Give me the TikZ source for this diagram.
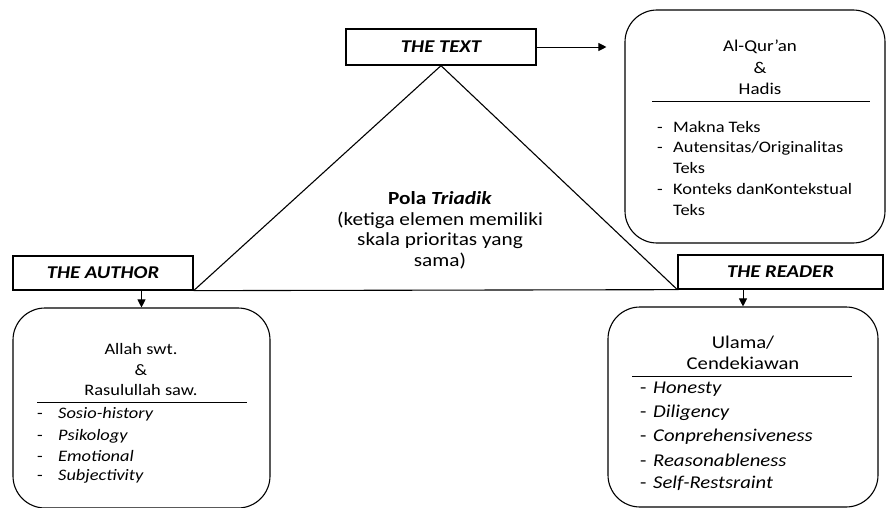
\documentclass[tikz,border=0pt]{standalone}
\usepackage{fontspec}
\setmainfont[FakeStretch=1.15]{Carlito}
\usetikzlibrary{arrows.meta, positioning}

\begin{document}
\begin{tikzpicture}[
    x=1pt, y=-1pt,
    role/.style={draw, rectangle, line width=1.3pt, inner sep=0pt, font=\fontsize{#1}{#1}\selectfont\bfseries\itshape},
    panel/.style={draw, rectangle, rounded corners=32pt, line width=1.1pt, inner sep=0pt},
    rule/.style={line width=0.9pt},
    txt/.style={inner sep=0pt, font=\fontsize{#1}{#1}\selectfont},
    item/.style={inner sep=0pt, anchor=west, font=\fontsize{#1}{#1}\selectfont},
    arrow/.style={-{Triangle[length=8pt, width=8pt]}, line width=0.9pt},
    >=Triangle
]
\useasboundingbox (0,0) rectangle (886,508);

% Elemen utama
\node[role=18, minimum width=190pt, minimum height=36pt] (text) at (441, 47) {THE TEXT};
\node[role=18, minimum width=180pt, minimum height=34pt] (author) at (103, 273) {THE AUTHOR};
\node[role=18, minimum width=205pt, minimum height=34pt] (reader) at (780.5, 272) {THE READER};

% Segitiga
\draw[line width=1.1pt] (author.south east) -- (text.south) -- (reader.south west) -- (author.south east);

\node[txt=18.5, font=\fontsize{18.5}{18.5}\selectfont\bfseries] (pola) at (440, 198) {Pola \textit{Triadik}};
\node[txt=18.5] (pola1) at (440, 220) {(ketiga elemen memiliki};
\node[txt=18.5] (pola2) at (440, 241) {skala prioritas yang};
\node[txt=18.5] (pola3) at (440, 261) {sama)};

% Kotak teks
\node[panel, minimum width=260pt, minimum height=233pt] (textbox) at (755, 126.5) {};
\node[txt=16.5] (quran) at (760, 47) {Al-Qur'an};
\node[txt=16.5] (and1) at (760, 68) {\&};
\node[txt=16.5] (hadis) at (760, 89) {Hadis};
\draw[rule] (652, 101) -- (870, 101);
\node[item=16] (t1) at (657, 127) {\makebox[16pt][l]{-}Makna Teks};
\node[item=16] (t2) at (657, 148) {\makebox[16pt][l]{-}Autensitas/Originalitas};
\node[item=16] (t3) at (673, 168) {Teks};
\node[item=16] (t4) at (657, 189) {\makebox[16pt][l]{-}Konteks danKontekstual};
\node[item=16] (t5) at (673, 210) {Teks};

% Kotak pengarang
\node[panel, minimum width=257pt, minimum height=200pt] (authorbox) at (141.5, 408) {};
\node[txt=16] (allah) at (141, 349) {Allah swt.};
\node[txt=16] (and2) at (141, 370) {\&};
\node[txt=16] (rasul) at (141, 390) {Rasulullah saw.};
\draw[rule] (37, 402) -- (247, 402);
\foreach \lbl/\ypos [count=\i] in {Sosio-history/414, Psikology/436, Emotional/456, Subjectivity/476}
  \node[item=16] (a\i) at (37, \ypos) {\makebox[21pt][l]{-}\textit{\lbl}};

% Kotak pembaca
\node[panel, minimum width=270pt, minimum height=200pt] (readerbox) at (743, 407) {};
\node[txt=18] (ulama) at (743, 343) {Ulama/};
\node[txt=18] (cendekia) at (743, 363) {Cendekiawan};
\draw[rule] (632, 376) -- (852, 376);
\foreach \lbl [count=\i] in {Honesty, Diligency, Conprehensiveness, Reasonableness, Self-Restsraint}
  \node[item=18] (r\i) at (640, 366+23.5*\i) {\makebox[13pt][l]{-}\textit{\lbl}};

% Panah
\draw[arrow, shorten >=18pt] (text.east) -- (text.east -| textbox.west);
\draw[arrow] (author.south -| authorbox.north) -- (authorbox.north);
\draw[arrow] (reader.south -| readerbox.north) -- (readerbox.north);

\end{tikzpicture}
\end{document}
